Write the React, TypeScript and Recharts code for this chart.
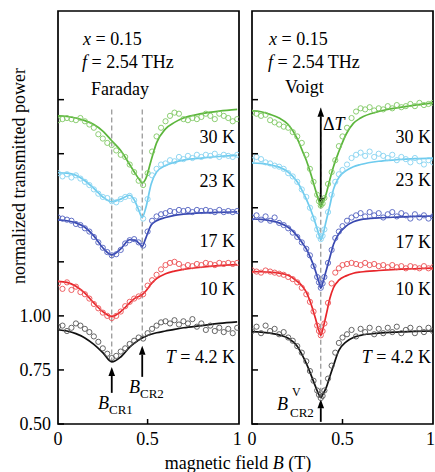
import React from 'react';
import { ComposedChart, Line, Scatter, XAxis, YAxis, ReferenceLine, ReferenceArea } from 'recharts';

const FONT = "'Liberation Serif', 'DejaVu Serif', serif";

// ---- Faraday panel ----
const farFitB = [0, 0.05, 0.1, 0.15, 0.2, 0.25, 0.3, 0.35, 0.4, 0.43, 0.45, 0.47, 0.49, 0.52, 0.55, 0.6, 0.65, 0.7, 0.8, 0.9, 1.0];
const farFit30 = [1.925, 1.922, 1.915, 1.903, 1.885, 1.855, 1.81, 1.765, 1.70, 1.66, 1.635, 1.615, 1.635, 1.72, 1.80, 1.865, 1.895, 1.915, 1.935, 1.947, 1.955];
const farFit23 = [1.662, 1.66, 1.65, 1.625, 1.59, 1.55, 1.528, 1.54, 1.558, 1.53, 1.49, 1.455, 1.50, 1.61, 1.665, 1.695, 1.71, 1.72, 1.73, 1.737, 1.742];
const farFit17 = [1.444, 1.44, 1.43, 1.41, 1.37, 1.315, 1.282, 1.31, 1.352, 1.35, 1.338, 1.322, 1.36, 1.42, 1.44, 1.455, 1.465, 1.47, 1.476, 1.479, 1.481];
const farFit10 = [1.16, 1.155, 1.137, 1.105, 1.06, 1.02, 0.997, 1.02, 1.06, 1.082, 1.09, 1.098, 1.115, 1.148, 1.172, 1.195, 1.207, 1.215, 1.225, 1.232, 1.237];
const farFit4 = [0.936, 0.93, 0.918, 0.898, 0.868, 0.83, 0.787, 0.81, 0.855, 0.876, 0.888, 0.898, 0.906, 0.915, 0.922, 0.93, 0.938, 0.945, 0.955, 0.965, 0.972];

const farPtB = [0, 0.025, 0.05, 0.075, 0.1, 0.125, 0.15, 0.175, 0.2, 0.225, 0.25, 0.275, 0.3, 0.325, 0.35, 0.375, 0.4, 0.425, 0.45, 0.475, 0.5,
  0.525, 0.55, 0.575, 0.6, 0.625, 0.65, 0.675, 0.7, 0.725, 0.75, 0.775, 0.8, 0.825, 0.85, 0.875, 0.9, 0.925, 0.95, 0.975, 1.0];
const farPts30 = [1.905, 1.91, 1.915, 1.91, 1.905, 1.915, 1.9, 1.885, 1.87, 1.84, 1.82, 1.80, 1.79, 1.765, 1.745, 1.735, 1.70, 1.665, 1.625, 1.605,
  1.66, 1.76, 1.83, 1.87, 1.9, 1.925, 1.94, 1.935, 1.91, 1.905, 1.915, 1.91, 1.92, 1.935, 1.925, 1.91, 1.935, 1.925, 1.915, 1.9, 1.91];
const farPts23 = [1.66, 1.645, 1.655, 1.64, 1.65, 1.635, 1.62, 1.605, 1.585, 1.565, 1.55, 1.545, 1.53, 1.525, 1.54, 1.55, 1.555, 1.535, 1.495, 1.45,
  1.54, 1.65, 1.68, 1.7, 1.705, 1.72, 1.715, 1.735, 1.725, 1.74, 1.73, 1.745, 1.735, 1.745, 1.74, 1.75, 1.735, 1.745, 1.74, 1.735, 1.745];
const farPts17 = [1.455, 1.45, 1.445, 1.44, 1.425, 1.42, 1.405, 1.39, 1.365, 1.34, 1.315, 1.295, 1.28, 1.285, 1.305, 1.335, 1.35, 1.355, 1.34, 1.325,
  1.39, 1.44, 1.46, 1.47, 1.475, 1.485, 1.48, 1.49, 1.485, 1.49, 1.48, 1.49, 1.485, 1.49, 1.485, 1.48, 1.49, 1.48, 1.485, 1.48, 1.485];
const farPts10 = [1.15, 1.125, 1.155, 1.12, 1.135, 1.11, 1.1, 1.08, 1.055, 1.035, 1.015, 1.0, 0.99, 1.0, 1.02, 1.045, 1.065, 1.08, 1.09, 1.1,
  1.14, 1.165, 1.19, 1.215, 1.235, 1.245, 1.25, 1.24, 1.225, 1.235, 1.23, 1.24, 1.235, 1.245, 1.24, 1.235, 1.245, 1.24, 1.245, 1.24, 1.245];
const farPts4 = [0.95, 0.955, 0.93, 0.945, 0.965, 0.955, 0.94, 0.925, 0.905, 0.88, 0.85, 0.825, 0.805, 0.815, 0.835, 0.85, 0.87, 0.885, 0.9, 0.895,
  0.92, 0.94, 0.955, 0.97, 0.975, 0.965, 0.98, 0.96, 0.975, 0.965, 0.985, 0.95, 0.965, 0.935, 0.955, 0.93, 0.945, 0.925, 0.94, 0.92, 0.945];

// ---- Voigt panel ----
const voiFitB = [0, 0.05, 0.1, 0.15, 0.2, 0.25, 0.28, 0.3, 0.32, 0.35, 0.37, 0.38, 0.39, 0.41, 0.43, 0.45, 0.48, 0.52, 0.56, 0.6, 0.7, 0.8, 0.9, 1.0];
const voiFit30 = [1.948, 1.944, 1.932, 1.915, 1.885, 1.82, 1.76, 1.72, 1.67, 1.585, 1.53, 1.505, 1.52, 1.565, 1.63, 1.69, 1.76, 1.84, 1.89, 1.915, 1.945, 1.962, 1.975, 1.985];
const voiFit23 = [1.707, 1.705, 1.698, 1.688, 1.665, 1.62, 1.575, 1.54, 1.50, 1.43, 1.375, 1.352, 1.37, 1.44, 1.51, 1.585, 1.64, 1.672, 1.69, 1.70, 1.715, 1.722, 1.727, 1.73];
const voiFit17 = [1.448, 1.446, 1.44, 1.43, 1.41, 1.37, 1.335, 1.31, 1.275, 1.21, 1.155, 1.128, 1.15, 1.21, 1.27, 1.33, 1.38, 1.415, 1.435, 1.445, 1.453, 1.457, 1.46, 1.462];
const voiFit10 = [1.205, 1.204, 1.202, 1.198, 1.188, 1.16, 1.135, 1.11, 1.07, 0.99, 0.93, 0.91, 0.935, 1.005, 1.08, 1.13, 1.165, 1.185, 1.197, 1.203, 1.21, 1.215, 1.218, 1.221];
const voiFit4 = [0.927, 0.925, 0.92, 0.912, 0.897, 0.86, 0.815, 0.78, 0.74, 0.675, 0.635, 0.622, 0.635, 0.668, 0.72, 0.77, 0.84, 0.88, 0.9, 0.91, 0.92, 0.925, 0.928, 0.93];

const voiPtB = [0, 0.025, 0.05, 0.075, 0.1, 0.125, 0.15, 0.175, 0.2, 0.225, 0.25, 0.275, 0.3, 0.32, 0.34, 0.36, 0.37, 0.38, 0.39, 0.4, 0.42, 0.44, 0.46, 0.48, 0.5,
  0.525, 0.55, 0.575, 0.6, 0.625, 0.65, 0.675, 0.7, 0.725, 0.75, 0.775, 0.8, 0.825, 0.85, 0.875, 0.9, 0.925, 0.95, 0.975, 1.0];
const voiPts30 = [1.94, 1.935, 1.925, 1.93, 1.905, 1.895, 1.885, 1.875, 1.87, 1.85, 1.83, 1.8, 1.745, 1.68, 1.62, 1.56, 1.53, 1.51, 1.52, 1.545, 1.61, 1.665, 1.72, 1.785, 1.83,
  1.87, 1.915, 1.945, 1.96, 1.955, 1.965, 1.95, 1.96, 1.955, 1.97, 1.96, 1.975, 1.965, 1.97, 1.98, 1.97, 1.985, 1.975, 1.98, 1.985];
const voiPts23 = [1.72, 1.735, 1.725, 1.71, 1.705, 1.695, 1.69, 1.68, 1.66, 1.645, 1.62, 1.585, 1.55, 1.5, 1.45, 1.4, 1.37, 1.355, 1.37, 1.4, 1.48, 1.56, 1.62, 1.655, 1.675,
  1.7, 1.73, 1.745, 1.755, 1.74, 1.76, 1.735, 1.75, 1.74, 1.73, 1.745, 1.72, 1.735, 1.725, 1.71, 1.73, 1.715, 1.70, 1.72, 1.71];
const voiPts17 = [1.455, 1.465, 1.445, 1.46, 1.44, 1.455, 1.43, 1.42, 1.405, 1.385, 1.365, 1.34, 1.31, 1.28, 1.23, 1.18, 1.155, 1.13, 1.15, 1.18, 1.245, 1.305, 1.36, 1.39, 1.415,
  1.44, 1.455, 1.465, 1.475, 1.46, 1.48, 1.465, 1.475, 1.455, 1.47, 1.48, 1.46, 1.475, 1.465, 1.45, 1.47, 1.455, 1.465, 1.45, 1.46];
const voiPts10 = [1.21, 1.205, 1.2, 1.21, 1.205, 1.2, 1.195, 1.19, 1.18, 1.17, 1.155, 1.13, 1.1, 1.065, 1.02, 0.955, 0.93, 0.91, 0.93, 0.965, 1.06, 1.15, 1.2, 1.22, 1.235,
  1.24, 1.245, 1.24, 1.235, 1.245, 1.235, 1.24, 1.23, 1.235, 1.225, 1.235, 1.225, 1.23, 1.22, 1.23, 1.225, 1.22, 1.23, 1.22, 1.225];
const voiPts4 = [0.93, 0.95, 0.92, 0.955, 0.93, 0.94, 0.915, 0.925, 0.9, 0.885, 0.86, 0.83, 0.79, 0.745, 0.7, 0.655, 0.635, 0.62, 0.63, 0.655, 0.71, 0.77, 0.83, 0.875, 0.9,
  0.915, 0.935, 0.905, 0.94, 0.925, 0.945, 0.915, 0.94, 0.92, 0.945, 0.925, 0.95, 0.92, 0.935, 0.945, 0.92, 0.94, 0.925, 0.945, 0.93];

const Y_TICKS = [0.5, 0.75, 1.0, 1.25, 1.5, 1.75, 2.0];
const X_TICKS = [0, 0.5, 1];
const X_TICK_TEXT = ['0', '0.5', '1'];

const COLORS = {
  k30: { line: '#5cb63c', dot: '#80c864' },
  k23: { line: '#6ecbee', dot: '#86d3f0' },
  k17: { line: '#3848b0', dot: '#5060c0' },
  k10: { line: '#e8262b', dot: '#ec5054' },
  k4: { line: '#111111', dot: '#555555' },
};

const pairs = (xs: number[], ys: number[]) => xs.map((x, i) => ({ x, y: ys[i] }));

const farSeries = [
  { key: 'f30', fit: pairs(farFitB, farFit30), pts: pairs(farPtB, farPts30), c: COLORS.k30 },
  { key: 'f23', fit: pairs(farFitB, farFit23), pts: pairs(farPtB, farPts23), c: COLORS.k23 },
  { key: 'f17', fit: pairs(farFitB, farFit17), pts: pairs(farPtB, farPts17), c: COLORS.k17 },
  { key: 'f10', fit: pairs(farFitB, farFit10), pts: pairs(farPtB, farPts10), c: COLORS.k10 },
  { key: 'f4', fit: pairs(farFitB, farFit4), pts: pairs(farPtB, farPts4), c: COLORS.k4 },
];

const voiSeries = [
  { key: 'v30', fit: pairs(voiFitB, voiFit30), pts: pairs(voiPtB, voiPts30), c: COLORS.k30 },
  { key: 'v23', fit: pairs(voiFitB, voiFit23), pts: pairs(voiPtB, voiPts23), c: COLORS.k23 },
  { key: 'v17', fit: pairs(voiFitB, voiFit17), pts: pairs(voiPtB, voiPts17), c: COLORS.k17 },
  { key: 'v10', fit: pairs(voiFitB, voiFit10), pts: pairs(voiPtB, voiPts10), c: COLORS.k10 },
  { key: 'v4', fit: pairs(voiFitB, voiFit4), pts: pairs(voiPtB, voiPts4), c: COLORS.k4 },
];

const serif = { fontFamily: FONT };

const YTick = ({ x, y, payload, withText }: any) => (
  <g>
    <line x1={x} y1={y} x2={x + 6} y2={y} stroke="#000" strokeWidth={1.5} />
    {withText && payload.value <= 1 && (
      <text x={x - 7} y={y + 6} textAnchor="end" fontSize={18} style={serif} fill="#000">
        {payload.value.toFixed(2)}
      </text>
    )}
  </g>
);

// the last label of the right panel sits on the page edge, so it is anchored at its end
const XTick = ({ x, y, payload, index, atEdge }: any) => {
  const last = atEdge && index === X_TICKS.length - 1;
  return (
    <g>
      {payload.value > 0 && payload.value < 1 && <line x1={x} y1={y} x2={x} y2={y - 5} stroke="#000" strokeWidth={1.5} />}
      <text x={last ? x + 2 : x} y={y + 21} textAnchor={last ? 'end' : 'middle'} fontSize={18} style={serif} fill="#000">
        {X_TICK_TEXT[index] ?? String(payload.value)}
      </text>
    </g>
  );
};

const arrowShape = (both: boolean) => (p: any) => {
  const { x1, y1, x2, y2 } = p;
  const len = Math.hypot(x2 - x1, y2 - y1) || 1;
  const ux = (x2 - x1) / len;
  const uy = (y2 - y1) / len;
  const head = 9;
  const half = 3.3;
  const headAt = (tx: number, ty: number, dx: number, dy: number) =>
    `${tx},${ty} ${tx - dx * head - dy * half},${ty - dy * head + dx * half} ${tx - dx * head + dy * half},${ty - dy * head - dx * half}`;
  const sx = both ? x1 + ux * head : x1;
  const sy = both ? y1 + uy * head : y1;
  return (
    <g>
      <line x1={sx} y1={sy} x2={x2 - ux * head} y2={y2 - uy * head} stroke="#000" strokeWidth={1.8} />
      <polygon points={headAt(x2, y2, ux, uy)} fill="#000" />
      {both && <polygon points={headAt(x1, y1, -ux, -uy)} fill="#000" />}
    </g>
  );
};

const dotShape = (color: string) => (p: any) =>
  p.cx == null ? <g /> : <circle cx={p.cx} cy={p.cy} r={2.6} fill="none" stroke={color} strokeWidth={0.9} />;

const Panel = ({ series, width, marginRight, yWidth, xMax, withText, children }: any) => (
  <ComposedChart width={width} height={472} margin={{ top: 11, right: marginRight, bottom: 0, left: 0 }}>
    <XAxis
      dataKey="x"
      type="number"
      domain={[0, xMax]}
      ticks={X_TICKS}
      interval={0}
      height={48}
      axisLine={false}
      tickLine={false}
      tickSize={0}
      tickMargin={0}
      tick={(p: any) => <XTick {...p} atEdge={!withText} />}
      allowDataOverflow
    />
    <YAxis
      type="number"
      domain={[0.5, 2.41]}
      ticks={Y_TICKS}
      interval={0}
      width={yWidth}
      axisLine={false}
      tickLine={false}
      tickSize={0}
      tickMargin={0}
      tick={(p: any) => <YTick {...p} withText={withText} />}
      allowDataOverflow
    />
    <ReferenceArea x1={0} x2={xMax} y1={0.5} y2={2.41} fill="none" fillOpacity={0} stroke="#000" strokeWidth={1.7} />
    {children}
    {series.map((s: any) => (
      <Scatter key={`${s.key}-p`} data={s.pts} dataKey="y" shape={dotShape(s.c.dot)} isAnimationActive={false} />
    ))}
    {series.map((s: any) => (
      <Line key={`${s.key}-l`} data={s.fit} dataKey="y" type="monotone" stroke={s.c.line} strokeWidth={1.7} dot={false} activeDot={false} isAnimationActive={false} />
    ))}
  </ComposedChart>
);

const txt = { fontSize: 18, fill: '#000', style: serif } as const;

export default function App() {
  return (
    <div style={{ position: 'absolute', left: 0, top: 0, width: 435, height: 472, background: '#fff', overflow: 'hidden', fontFamily: FONT }}>
      <div style={{ position: 'absolute', left: 0, top: 0 }}>
        <Panel series={farSeries} width={250} marginRight={11} yWidth={58} xMax={1.01} withText>
          <ReferenceLine segment={[{ x: 0.3, y: 1.955 }, { x: 0.3, y: 0.787 }]} stroke="#888" strokeDasharray="5 3" strokeWidth={1.1} />
          <ReferenceLine segment={[{ x: 0.47, y: 1.955 }, { x: 0.47, y: 0.9 }]} stroke="#888" strokeDasharray="5 3" strokeWidth={1.1} />
          <ReferenceLine segment={[{ x: 0.3, y: 0.644 }, { x: 0.3, y: 0.764 }]} shape={arrowShape(false)} />
          <ReferenceLine segment={[{ x: 0.47, y: 0.718 }, { x: 0.47, y: 0.862 }]} shape={arrowShape(false)} />
        </Panel>
      </div>
      <div style={{ position: 'absolute', left: 240, top: 0 }}>
        <Panel series={voiSeries} width={195} marginRight={2} yWidth={12} xMax={1} withText={false}>
          <ReferenceLine segment={[{ x: 0.38, y: 1.963 }, { x: 0.38, y: 0.625 }]} stroke="#888" strokeDasharray="5 3" strokeWidth={1.1} />
          <ReferenceLine segment={[{ x: 0.38, y: 1.505 }, { x: 0.38, y: 1.963 }]} shape={arrowShape(true)} />
          <ReferenceLine segment={[{ x: 0.38, y: 0.51 }, { x: 0.38, y: 0.615 }]} shape={arrowShape(false)} />
        </Panel>
      </div>
      <svg width={435} height={472} style={{ position: 'absolute', left: 0, top: 0, pointerEvents: 'none' }}>
        <text {...txt} transform="translate(25,176) rotate(-90)" textAnchor="middle">normalized transmitted power</text>
        <text {...txt} x={238} y={469} textAnchor="middle">
          magnetic field <tspan fontStyle="italic">B</tspan> (T)
        </text>

        <text {...txt} x={83} y={45}><tspan fontStyle="italic">x</tspan> = 0.15</text>
        <text {...txt} x={82} y={68}><tspan fontStyle="italic">f</tspan> = 2.54 THz</text>
        <text {...txt} x={91} y={95}>Faraday</text>

        <text {...txt} x={269} y={45}><tspan fontStyle="italic">x</tspan> = 0.15</text>
        <text {...txt} x={268} y={68}><tspan fontStyle="italic">f</tspan> = 2.54 THz</text>
        <text {...txt} x={285} y={93}>Voigt</text>

        <text {...txt} x={235} y={143} textAnchor="end">30 K</text>
        <text {...txt} x={235} y={187} textAnchor="end">23 K</text>
        <text {...txt} x={235} y={247} textAnchor="end">17 K</text>
        <text {...txt} x={235} y={295} textAnchor="end">10 K</text>
        <text {...txt} x={235} y={363} textAnchor="end"><tspan fontStyle="italic">T</tspan> = 4.2 K</text>

        <text {...txt} x={431} y={143} textAnchor="end">30 K</text>
        <text {...txt} x={431} y={186} textAnchor="end">23 K</text>
        <text {...txt} x={431} y={248} textAnchor="end">17 K</text>
        <text {...txt} x={431} y={295} textAnchor="end">10 K</text>
        <text {...txt} x={431} y={363} textAnchor="end"><tspan fontStyle="italic">T</tspan> = 4.2 K</text>

        <text {...txt} x={323} y={130}>Δ<tspan fontStyle="italic">T</tspan></text>

        <text {...txt} x={98} y={409}>
          <tspan fontStyle="italic">B</tspan>
          <tspan fontSize={13} dy={5}>CR1</tspan>
        </text>
        <text {...txt} x={129} y={393}>
          <tspan fontStyle="italic">B</tspan>
          <tspan fontSize={13} dy={5}>CR2</tspan>
        </text>
        <text {...txt} x={277} y={410}><tspan fontStyle="italic">B</tspan></text>
        <text {...txt} x={292} y={396} fontSize={12}>V</text>
        <text {...txt} x={290} y={417} fontSize={13}>CR2</text>
      </svg>
    </div>
  );
}
